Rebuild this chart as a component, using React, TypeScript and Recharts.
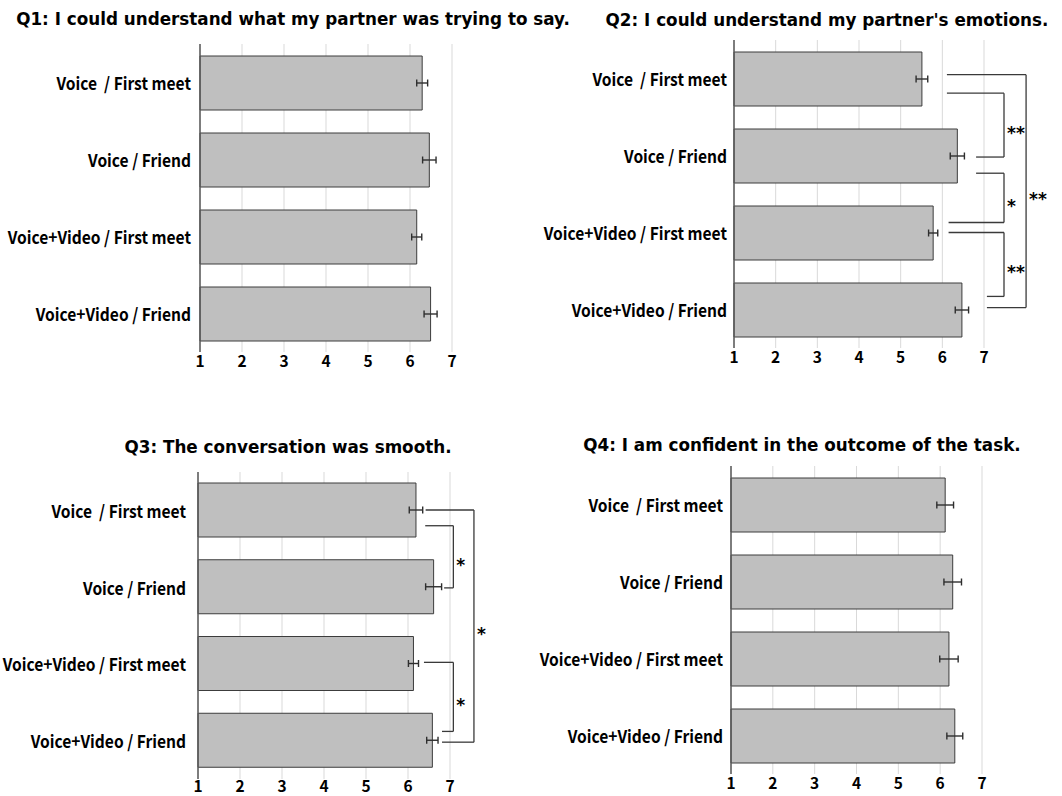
import { BarChart, Bar, XAxis, YAxis, CartesianGrid, ErrorBar, ReferenceLine } from 'recharts';

// conditions (top to bottom)
const conditions = [
  'Voice\u00a0 / First meet',
  'Voice / Friend',
  'Voice+Video / First meet',
  'Voice+Video / Friend',
];
const scaleTicks = [1, 2, 3, 4, 5, 6, 7];

const q1Means = [6.29, 6.46, 6.16, 6.49];
const q1Errors = [0.13, 0.16, 0.12, 0.155];

const q2Means = [5.51, 6.36, 5.78, 6.47];
const q2Errors = [0.14, 0.17, 0.11, 0.16];

const q3Means = [6.19, 6.61, 6.13, 6.58];
const q3Errors = [0.16, 0.19, 0.12, 0.135];

const q4Means = [6.12, 6.3, 6.21, 6.35];
const q4Errors = [0.2, 0.21, 0.22, 0.19];

// significance brackets: rows measured in category bands (0 = top of chart)
type Bracket = { top: number; bottom: number; topFrom: number; bottomFrom: number; at: number; mark: string };

const q2Brackets: Bracket[] = [
  { top: 0.69, bottom: 1.52, topFrom: 6.11, bottomFrom: 6.81, at: 7.48, mark: '**' },
  { top: 1.73, bottom: 2.37, topFrom: 6.81, bottomFrom: 6.15, at: 7.48, mark: '*' },
  { top: 2.5, bottom: 3.33, topFrom: 6.15, bottomFrom: 7.07, at: 7.48, mark: '**' },
  { top: 0.45, bottom: 3.475, topFrom: 6.11, bottomFrom: 7.07, at: 8.01, mark: '**' },
];

const q3Brackets: Bracket[] = [
  { top: 0.7, bottom: 1.51, topFrom: 6.41, bottomFrom: 6.86, at: 7.08, mark: '*' },
  { top: 2.48, bottom: 3.38, topFrom: 6.38, bottomFrom: 6.81, at: 7.08, mark: '*' },
  { top: 0.495, bottom: 3.52, topFrom: 6.42, bottomFrom: 6.81, at: 7.57, mark: '*' },
];

// one row per condition, centred in its band on a numeric 0..4 axis
const rowTicks = conditions.map((_, i) => i + 0.5);

const toRows = (means: number[], errors: number[]) =>
  conditions.map((name, i) => ({ name, row: rowTicks[i], mean: means[i], err: errors[i] }));

const labelFont = "'Noto Sans CJK JP', sans-serif";
const titleFont = "'DejaVu Sans', sans-serif";

// condensed bold category label
const ConditionTick = (props: any) => {
  const { x, y, payload } = props;
  const idx = rowTicks.indexOf(payload.value);
  return (
    <text
      x={0}
      y={0}
      transform={`translate(${x},${y}) scale(0.89,1)`}
      textAnchor='end'
      dominantBaseline='central'
      fill='#000'
      fontSize={17.5}
      fontWeight={700}
      fontFamily={labelFont}
    >
      {conditions[idx] ?? ''}
    </text>
  );
};

type PanelProps = {
  left: number;
  top: number;
  width: number;
  height: number;
  axisWidth: number;
  margin: { top: number; right: number; bottom: number };
  xHeight: number;
  xGap: number;
  yGap: number;
  title: string;
  titleX: number;
  titleY: number;
  means: number[];
  errors: number[];
  brackets?: Bracket[];
};

const Panel = (p: PanelProps) => {
  const data = toRows(p.means, p.errors);
  const lineColor = '#3a3a3a';
  return (
    <>
      <div
        style={{
          position: 'absolute',
          left: p.titleX - 300,
          top: p.titleY - 11,
          width: 600,
          lineHeight: '22px',
          textAlign: 'center',
          fontFamily: titleFont,
          fontWeight: 'bold',
          fontSize: 16.8,
          color: '#000',
          whiteSpace: 'nowrap',
        }}
      >
        {p.title}
      </div>
      <div style={{ position: 'absolute', left: p.left, top: p.top }}>
        <BarChart
          width={p.width}
          height={p.height}
          data={data}
          layout='vertical'
          margin={{ top: p.margin.top, right: p.margin.right, bottom: p.margin.bottom, left: 0 }}
        >
          <CartesianGrid horizontal={false} stroke='#d9d9d9' />
          <XAxis
            type='number'
            domain={[1, 7]}
            ticks={scaleTicks}
            interval={0}
            axisLine={false}
            tickLine={false}
            tickSize={0}
            tickMargin={p.xGap}
            height={p.xHeight}
            tick={{ fill: '#000', fontSize: 15.5, fontWeight: 700, fontFamily: labelFont }}
          />
          <YAxis
            dataKey='row'
            type='number'
            domain={[0, 4]}
            allowDataOverflow
            ticks={rowTicks}
            interval={0}
            width={p.axisWidth}
            tickLine={false}
            tickSize={0}
            tickMargin={p.yGap}
            axisLine={{ stroke: '#595959', strokeWidth: 1.5 }}
            tick={<ConditionTick />}
          />
          <Bar dataKey='mean' fill='#bfbfbf' stroke='#3c3c3c' strokeWidth={1} barSize={54} isAnimationActive={false}>
            <ErrorBar dataKey='err' direction='x' width={3.5} stroke='#2e2e2e' strokeWidth={1.4} />
          </Bar>
          {(p.brackets || []).flatMap((b, i) => [
            <ReferenceLine
              key={`t${i}`}
              ifOverflow='visible'
              stroke={lineColor}
              strokeWidth={1.3}
              segment={[{ x: b.topFrom, y: b.top }, { x: b.at, y: b.top }]}
            />,
            <ReferenceLine
              key={`v${i}`}
              ifOverflow='visible'
              stroke={lineColor}
              strokeWidth={1.3}
              segment={[{ x: b.at, y: b.top }, { x: b.at, y: b.bottom }]}
              label={{
                content: (lp: any) => {
                  const vb = lp.viewBox || {};
                  const x = (vb.x ?? 0) + 3;
                  const y = (vb.y ?? 0) + (vb.height ?? 0) / 2 + 8;
                  return (
                    <text
                      x={x}
                      y={y}
                      dominantBaseline='central'
                      fill='#000'
                      fontSize={17}
                      fontWeight={700}
                      fontFamily={titleFont}
                    >
                      {b.mark}
                    </text>
                  );
                },
              }}
            />,
            <ReferenceLine
              key={`b${i}`}
              ifOverflow='visible'
              stroke={lineColor}
              strokeWidth={1.3}
              segment={[{ x: b.bottomFrom, y: b.bottom }, { x: b.at, y: b.bottom }]}
            />,
          ])}
        </BarChart>
      </div>
    </>
  );
};

const App = () => {
  return (
    <div style={{ position: 'absolute', left: 0, top: 0, width: 1062, height: 796, background: '#fff', overflow: 'hidden' }}>
      <Panel
        left={0}
        top={0}
        width={530}
        height={400}
        axisWidth={200}
        margin={{ top: 44, right: 78, bottom: 18 }}
        xHeight={30}
        xGap={4}
        yGap={9}
        title='Q1: I could understand what my partner was trying to say.'
        titleX={293}
        titleY={19}
        means={q1Means}
        errors={q1Errors}
      />
      <Panel
        left={530}
        top={0}
        width={532}
        height={400}
        axisWidth={204}
        margin={{ top: 40, right: 78, bottom: 22 }}
        xHeight={30}
        xGap={3.5}
        yGap={7}
        title="Q2: I could understand my partner's emotions."
        titleX={827}
        titleY={20}
        means={q2Means}
        errors={q2Errors}
        brackets={q2Brackets}
      />
      <Panel
        left={0}
        top={400}
        width={530}
        height={396}
        axisWidth={198}
        margin={{ top: 72, right: 80, bottom: 1 }}
        xHeight={16}
        xGap={2}
        yGap={12}
        title='Q3: The conversation was smooth.'
        titleX={288}
        titleY={447}
        means={q3Means}
        errors={q3Errors}
        brackets={q3Brackets}
      />
      <Panel
        left={530}
        top={400}
        width={532}
        height={396}
        axisWidth={201}
        margin={{ top: 66, right: 80, bottom: 2 }}
        xHeight={20}
        xGap={4}
        yGap={8}
        title='Q4: I am confident in the outcome of the task.'
        titleX={802}
        titleY={445}
        means={q4Means}
        errors={q4Errors}
      />
    </div>
  );
};

export default App;
